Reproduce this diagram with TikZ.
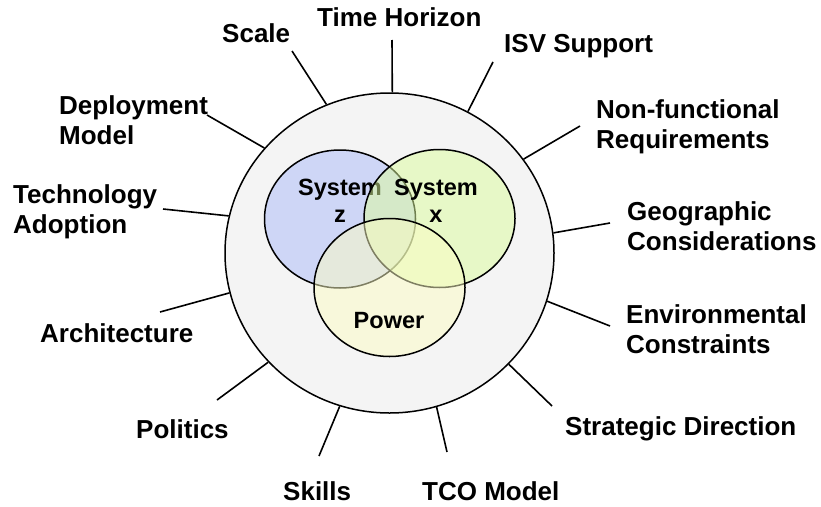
\documentclass[tikz,border=0pt]{standalone}
\usepackage{fontspec}
\setmainfont{Liberation Sans}
\usetikzlibrary{shapes.geometric}
\definecolor{outerfill}{HTML}{F4F4F4}
\definecolor{bluefill}{HTML}{CED6F6}
\definecolor{greenfill}{HTML}{DCFC9C}
\definecolor{yellowfill}{HTML}{FCFCC4}
\tikzset{
  lbl/.style={anchor=base west, inner sep=0pt, align=left, font=\fontsize{26}{29.5}\selectfont\bfseries},
  inlbl/.style={anchor=base, inner sep=0pt, align=center, font=\fontsize{23.5}{27}\selectfont\bfseries},
  venn/.style={ellipse, draw=black, line width=1.5pt, inner sep=0pt, minimum width=151pt, minimum height=138pt},
  conn/.style={draw=black, line width=1.6pt},
}
\begin{document}
\begin{tikzpicture}[x=1pt,y=-1pt]
\useasboundingbox (0,0) rectangle (821,506);
\node[ellipse, draw=black, line width=1.5pt, fill=outerfill, inner sep=0pt, minimum width=329pt, minimum height=320pt] (outer) at (389.5,253) {};
\node[venn, fill=bluefill] (sz) at (340,219) {};
\node[inlbl] (szt) at (340,222) {System\\z};
\node[venn, fill=greenfill, fill opacity=0.5] (sx) at (439.5,218.5) {};
\node[venn, fill=yellowfill, fill opacity=0.5] (pw) at (389.5,287.5) {};
\node[inlbl] (sxt) at (436,222) {System\\x};
\node[inlbl] (pwt) at (389,328) {Power};

\node[lbl] (scale) at (222,42) {Scale};
\node[lbl] (time) at (317,27) {Time Horizon};
\node[lbl] (isv) at (504,52) {ISV Support};
\node[lbl] (nonf) at (596,148) {Non-functional\\Requirements};
\node[lbl] (geo) at (627,250) {Geographic\\Considerations};
\node[lbl] (env) at (626,353) {Environmental\\Constraints};
\node[lbl] (strat) at (565,435) {Strategic Direction};
\node[lbl] (tco) at (422,500) {TCO Model};
\node[lbl] (skills) at (283,500) {Skills};
\node[lbl] (pol) at (136,438) {Politics};
\node[lbl] (arch) at (40,342) {Architecture};
\node[lbl] (tech) at (13,233) {Technology\\Adoption};
\node[lbl] (dep) at (59,144) {Deployment\\Model};

\coordinate (cscale) at (292,51);
\coordinate (ctime) at (392,40);
\coordinate (cisv) at (493,62);
\coordinate (cnonf) at (580,126);
\coordinate (cgeo) at (610,223);
\coordinate (cenv) at (610,326);
\coordinate (cstrat) at (552,406);
\coordinate (ctco) at (447,452);
\coordinate (cskills) at (319,456);
\coordinate (cpol) at (217,400);
\coordinate (carch) at (160,312);
\coordinate (ctech) at (163,209);
\coordinate (cdep) at (207,115);

\draw[conn] (cscale) -- (outer.113.9);
\draw[conn] (ctime) -- (outer.89.1);
\draw[conn] (cisv) -- (outer.61.5);
\draw[conn] (cnonf) -- (outer.35.2);
\draw[conn] (cgeo) -- (outer.7.9);
\draw[conn] (cenv) -- (outer.-17.2);
\draw[conn] (cstrat) -- (outer.-43.1);
\draw[conn] (ctco) -- (outer.-73.6);
\draw[conn] (cskills) -- (outer.-108.4);
\draw[conn] (cpol) -- (outer.-138.6);
\draw[conn] (carch) -- (outer.-166.8);
\draw[conn] (ctech) -- (outer.167.4);
\draw[conn] (cdep) -- (outer.140.3);
\end{tikzpicture}
\end{document}
